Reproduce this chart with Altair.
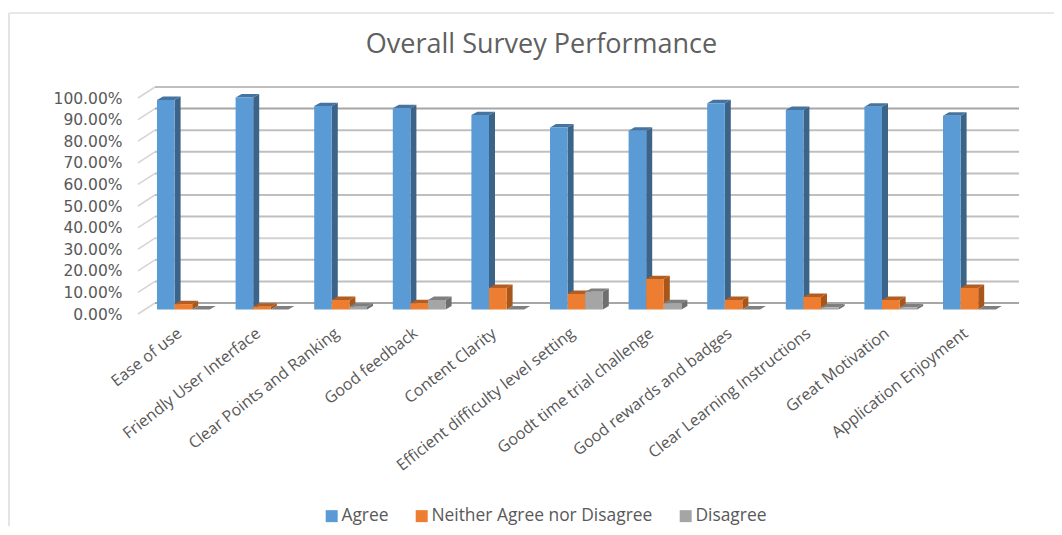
import altair as alt
import pandas as pd

categories = ["Ease of use", "Friendly User Interface", "Clear Points and Ranking", "Good feedback",
              "Content Clarity", "Efficient difficulty level setting", "Goodt time trial challenge",
              "Good rewards and badges", "Clear Learning Instructions", "Great Motivation",
              "Application Enjoyment"]
agree = [97.0, 98.2, 94.2, 93.2, 90.0, 84.3, 82.8, 95.5, 92.4, 93.9, 89.7]
neither = [2.5, 1.3, 4.4, 2.9, 10.0, 7.2, 14.1, 4.4, 5.8, 4.4, 10.0]
disagree = [0.0, 0.0, 1.3, 4.4, 0.0, 8.2, 2.9, 0.0, 1.0, 1.0, 0.0]
series_names = ["Agree", "Neither Agree nor Disagree", "Disagree"]
series_values = [agree, neither, disagree]
front_colors = ["#5b9bd5", "#ed7d31", "#a5a5a5"]
side_colors = ["#3b6488", "#a85619", "#6f6f6f"]
top_colors = ["#44749f", "#b25d22", "#7f7f7f"]
ticks = [i / 10 for i in range(11)]

FONT = "Open Sans"
TEXT = "#595959"
PX_X, PX_Y = 78.6, 216.0       # pixels per category slot and per 100 %
WIDTH, HEIGHT = 881, 227
BAR_W = 17.6 / PX_X
START = 19 / PX_X
DX, DY = 6 / PX_X, 3.4 / PX_Y     # bar depth
WALL_X, WALL_Y = 17 / PX_X, 11 / PX_Y  # floor depth
BASE = 4.5 / PX_Y

xs = alt.Scale(domain=[0, WIDTH / PX_X], nice=False, zero=False)
ys = alt.Scale(domain=[0, HEIGHT / PX_Y], nice=False, zero=False)
X = alt.X("x:Q", scale=xs, title=None)
Y = alt.Y("y:Q", scale=ys, title=None)

# walls and gridlines
grid_rows = []
for t in ticks:
    strong = t in (0.0, 0.9)
    grid_rows.append(dict(x=WALL_X, x2=WIDTH / PX_X, y=t + WALL_Y, y2=t + WALL_Y, t=t,
                          c="#a6a6a6" if strong else ("#d2d2d2" if t == 0.3 else "#bfbfbf")))
grid = pd.DataFrame(grid_rows)
walls = pd.DataFrame([dict(x=0, x2=WALL_X, y=t, y2=t + WALL_Y) for t in ticks])

grid_layer = alt.Chart(grid).mark_rule(strokeWidth=2).encode(
    x=X, x2="x2:Q", y=Y, y2="y2:Q", stroke=alt.Stroke("c:N", scale=None, legend=None))
wall_layer = alt.Chart(walls).mark_rule(strokeWidth=1.5, color="#d4d4d4").encode(
    x=X, x2="x2:Q", y=Y, y2="y2:Q")

# invisible carrier for the real axes
axis_layer = alt.Chart(pd.DataFrame({"x": [i + 0.5 for i in range(len(categories))],
                                     "y": [0.0] * len(categories)})).mark_point(opacity=0).encode(
    x=alt.X("x:Q", scale=xs, axis=alt.Axis(
        values=[i + 0.5 for i in range(len(categories))], title=None, domain=False, ticks=False,
        grid=False, labelAngle=-38, labelAlign="right", labelBaseline="middle", labelPadding=17,
        labelOffset=2, labelFont=FONT, labelFontSize=16, labelColor=TEXT, labelLimit=400,
        labelOverlap=False, labelFlush=False, tickCount=len(categories),
        labelExpr="%r[floor(datum.value)]" % categories)),
    y=alt.Y("y:Q", scale=ys, axis=alt.Axis(
        values=ticks, format=".2%", title=None, domain=False, ticks=False, grid=False,
        labelPadding=16, labelFont="DejaVu Sans", labelFontSize=15.5, labelColor=TEXT,
        labelOverlap=False, labelFlush=False, tickCount=len(ticks))),
)

# thin frame of the picture along its top and left edges
frame_top = alt.Chart(pd.DataFrame({"k": [0]})).mark_rule(color="#e8e8e8", strokeWidth=2).encode(
    x=alt.value(-129), x2=alt.value(916), y=alt.value(-74))
frame_left = alt.Chart(pd.DataFrame({"k": [0]})).mark_rule(color="#e4e4e4", strokeWidth=2).encode(
    x=alt.value(-129), y=alt.value(-74), y2=alt.value(439))

layers = [axis_layer, frame_top, frame_left, wall_layer, grid_layer]
color = alt.Color("series:N", scale=alt.Scale(domain=series_names, range=front_colors),
                  legend=alt.Legend(orient="none", legendX=185, legendY=420, direction="horizontal",
                                    title=None, symbolType="square", symbolSize=144, symbolStrokeWidth=0,
                                    labelFont=FONT, labelFontSize=17.4, labelColor=TEXT, labelLimit=400,
                                    columnPadding=24, labelOffset=1))

for s, (name, values) in enumerate(zip(series_names, series_values)):
    front, side, top = [], [], []
    for i, raw in enumerate(values):
        v = raw / 100 + BASE
        xl = i + START + s * BAR_W
        xr = xl + BAR_W
        front.append(dict(x=xl, x2=xr, y=BASE, y2=v, series=name))
        side += [dict(x=xr, y=BASE, y2=v, g=i), dict(x=xr + DX, y=BASE + DY, y2=v + DY, g=i)]
        top += [dict(x=xl, y=v, y2=v, g=i), dict(x=xl + DX, y=v, y2=v + DY, g=i),
                dict(x=xr, y=v, y2=v + DY, g=i), dict(x=xr + DX, y=v + DY, y2=v + DY, g=i)]
    layers.append(alt.Chart(pd.DataFrame(side)).mark_area(orient="vertical", color=side_colors[s]).encode(
        x=X, y=Y, y2="y2:Q", detail="g:N"))
    layers.append(alt.Chart(pd.DataFrame(top)).mark_area(orient="vertical", color=top_colors[s]).encode(
        x=X, y=Y, y2="y2:Q", detail="g:N"))
    layers.append(alt.Chart(pd.DataFrame(front)).mark_rect().encode(
        x=X, x2="x2:Q", y=Y, y2="y2:Q", color=color))

chart = alt.layer(*layers).properties(
    width=WIDTH, height=HEIGHT,
    autosize=alt.AutoSizeParams(type="none"),
    padding={"left": 130, "top": 79, "right": 35, "bottom": 213},
    title=alt.TitleParams("Overall Survey Performance", font=FONT, fontSize=27, fontWeight="normal",
                          color="#606060", anchor="middle", dx=-37, offset=-47),
).configure_view(stroke=None)

chart.save("out.html", embed_options={"renderer": "svg", "actions": False})
